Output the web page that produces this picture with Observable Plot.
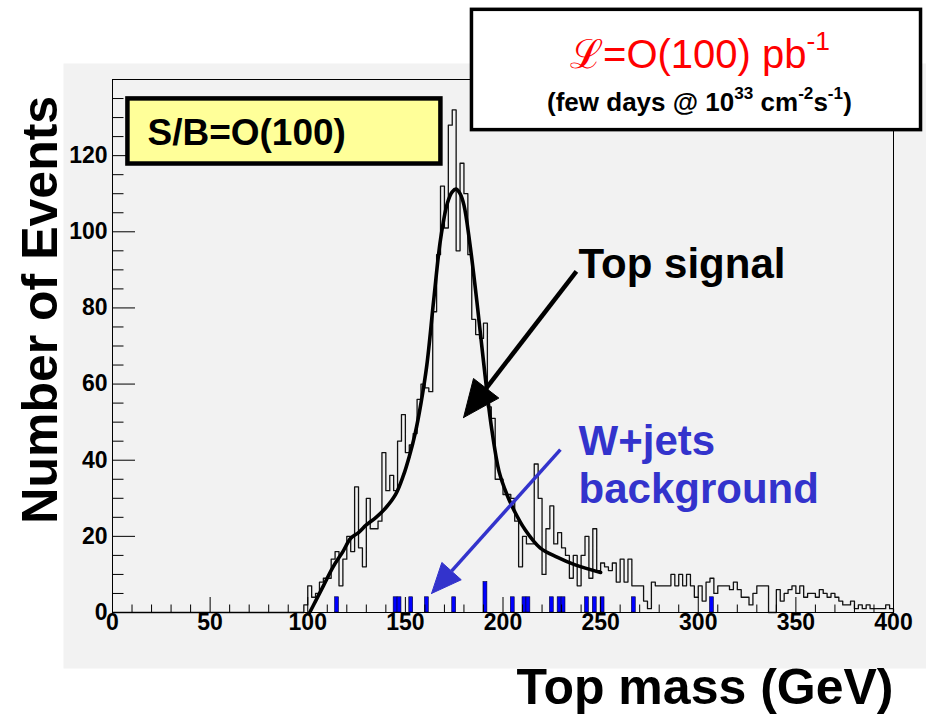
<!DOCTYPE html>
<html>
<head>
<meta charset="utf-8">
<script src="https://cdn.jsdelivr.net/npm/d3@7"></script>
<script src="https://cdn.jsdelivr.net/npm/@observablehq/plot@0.6"></script>
<style>
html, body { margin: 0; padding: 0; background: #ffffff; }
#chart { width: 926px; height: 717px; }
</style>
</head>
<body>
<div id="chart"></div>
<script>
// ---------------- DATA ----------------
// Top signal histogram: 2 GeV bins, first non-empty bin starts at 98 GeV
const binWidth = 2;
const sigFirstEdge = 98;
const sigCounts = [
  2, 7, 4, 5, 8, 9, 9, 14, 16, 7,
  14, 20, 16, 33, 17, 12, 30, 22, 22, 24,
  42, 32, 36, 32, 45, 52, 42, 44, 47, 56,
  60, 59, 58, 79, 94, 112, 101, 128, 132, 95,
  118, 110, 94, 77, 73, 72, 76, 54, 51, 35,
  35, 31, 31, 30, 24, 12, 20, 18, 18, 39,
  30, 10, 22, 28, 18, 21, 17, 15, 9, 15,
  7, 15, 20, 9, 22, 11, 13, 12, 11, 13,
  8, 14, 8, 14, 7, 7, 7, 3, 1, 8,
  7, 7, 7, 7, 10, 7, 10, 7, 10, 7,
  4, 7, 3, 8, 9, 5, 7, 7, 7, 6,
  8, 6, 4, 4, 2, 5, 7, 7, 7, 0,
  0, 6, 3, 5, 6, 7, 5, 7, 4, 5,
  5, 4, 6, 5, 4, 5, 4, 3, 2, 2,
  3, 1, 2, 1, 2, 1, 1, 1, 1, 2,
  1
];
// W+jets background histogram (bin low edges and contents)
const bkgLow   = [114, 144, 146, 152, 160, 174, 190, 204, 210, 212, 224, 228, 230, 242, 246, 250, 266, 306];
const bkgCount = [4,   4,   4,   4,   4,   4,   8,   4,   4,   4,   4,   4,   4,   4,   4,   4,   4,   4];
// fitted curve
const fitMass  = [101, 104, 108, 113, 118, 122, 126, 130, 135, 140, 145, 149, 152, 155, 158, 161, 164.5, 168, 171.5, 174, 176, 178, 180, 183, 187, 190, 194, 198, 202, 206, 211, 219, 228, 237, 250];
const fitCount = [0,   3,   7,   12,  16,  19.5, 21, 23, 25, 27.5, 31, 36, 41, 47, 55, 65, 82, 98, 107.5, 110.5, 111.2, 110, 107, 97, 80, 66, 49, 37, 31, 26.5, 22, 17, 14.5, 12.5, 10.5];
// axis ticks
const xMajorTicks = [0, 50, 100, 150, 200, 250, 300, 350, 400];
const xTickLabels = ["0", "50", "100", "150", "200", "250", "300", "350", "400"];
const yMajorTicks = [0, 20, 40, 60, 80, 100, 120];
const yTickLabels = ["0", "20", "40", "60", "80", "100", "120"];
const xMinorStep = 10, yMinorStep = 5;
// texts
const xTitle = "Top mass (GeV)";
const yTitle = "Number of Events";
const sbText = "S/B=O(100)";
const lumiText = "\u2112=O(100) pb^{-1}";
const lumiSub = "(few days @ 10^{33} cm^{-2}s^{-1})";
const sigLabel = "Top signal";
const bkgLabel = ["W+jets", "background"];

// ---------------- LAYOUT ----------------
const W = 926, H = 717;
const M = {left: 112, right: 33, top: 79, bottom: 105};
const xDomain = [0, 400], yDomain = [0, 140];
const kx = (W - M.left - M.right) / (xDomain[1] - xDomain[0]);
const ky = (H - M.top - M.bottom) / (yDomain[1] - yDomain[0]);
const toPx = (x, y) => [M.left + (x - xDomain[0]) * kx, H - M.bottom - (y - yDomain[0]) * ky];
const fromPx = (px, py) => [xDomain[0] + (px - M.left) / kx, yDomain[0] + (H - M.bottom - py) / ky];

const FONT = "'Liberation Sans', Arial, Helvetica, sans-serif";
const GRAY = "#f2f2f2";
const BLUE_TXT = "#3333cc";

// annotation placement in data units (GeV, events)
const place = {
  sbBox:   {x1: 7.9, x2: 168.2, y1: 117.8, y2: 134.9},
  sbText:  {x: 17.9, y: 125.8},
  lumiBox: {x1: 184.1, x2: 414.1, y1: 126.7, y2: 158.3},
  lumi1:   {x: 300.9, y: 146.3},
  lumi2:   {x: 300.6, y: 133.8},
  sig:     {x: 238.7, y: 91.5},
  bkg1:    {x: 238.7, y: 44.8},
  bkg2:    {x: 238.7, y: 32.2},
  yTitleEnd: 135.7
};
const arrows = [
  {x1: 237.6, y1: 89.6, x2: 179.8, y2: 51.2, head: 37, half: 16, width: 4.5, color: "#000000"},
  {x1: 229.4, y1: 42.8, x2: 163.4, y2: 5.0,  head: 30, half: 13, width: 3.5, color: BLUE_TXT}
];

// ---------------- DERIVED TABLES ----------------
const stepPts = [{x: xDomain[0], y: 0}];
sigCounts.forEach((n, i) => stepPts.push({x: sigFirstEdge + i * binWidth, y: n}));
stepPts.push({x: sigFirstEdge + sigCounts.length * binWidth, y: 0});
if (stepPts[stepPts.length - 1].x < xDomain[1]) stepPts.push({x: xDomain[1], y: 0});

const bkgBins = bkgLow.map((lo, i) => ({x1: lo, x2: lo + binWidth, y: bkgCount[i]}));
const fit = fitMass.map((m, i) => ({x: m, y: fitCount[i]}));

const xMinorTicks = d3.range(xDomain[0], xDomain[1] + 1, xMinorStep).filter(v => !xMajorTicks.includes(v));
const yMinorTicks = d3.range(yDomain[0], yDomain[1], yMinorStep).filter(v => !yMajorTicks.includes(v));

function arrowGeom(a) {
  const P = toPx(a.x2, a.y2), T = toPx(a.x1, a.y1);
  const dx = T[0] - P[0], dy = T[1] - P[1];
  const L = Math.hypot(dx, dy);
  const ux = dx / L, uy = dy / L;
  const B = [P[0] + ux * a.head, P[1] + uy * a.head];
  const nx = -uy, ny = ux;
  const tri = [P, [B[0] + nx * a.half, B[1] + ny * a.half], [B[0] - nx * a.half, B[1] - ny * a.half], P]
    .map(p => fromPx(p[0], p[1]));
  const Bd = fromPx(B[0], B[1]);
  return {shaft: {x1: a.x1, y1: a.y1, x2: Bd[0], y2: Bd[1]}, tri, a};
}
const arrowMarks = arrows.flatMap(a => {
  const g = arrowGeom(a);
  return [
    Plot.link([g.shaft], {x1: "x1", y1: "y1", x2: "x2", y2: "y2", stroke: a.color, strokeWidth: a.width}),
    Plot.line(g.tri, {x: d => d[0], y: d => d[1], fill: a.color, stroke: a.color, strokeWidth: 1, strokeLinejoin: "miter"})
  ];
});

const bold = {fontFamily: FONT, fontWeight: "bold"};

const chart = Plot.plot({
  width: W,
  height: H,
  marginLeft: M.left,
  marginRight: M.right,
  marginTop: M.top,
  marginBottom: M.bottom,
  x: {domain: xDomain, axis: null},
  y: {domain: yDomain, axis: null},
  style: {background: "#ffffff", fontFamily: FONT, overflow: "visible"},
  marks: [
    // pad background
    Plot.frame({fill: GRAY, stroke: "none", insetLeft: -49, insetTop: -16, insetRight: -33, insetBottom: -56}),
    // signal histogram outline
    Plot.line(stepPts, {x: "x", y: "y", curve: "step-after", stroke: "#111", strokeWidth: 1.3}),
    // background histogram
    Plot.rectY(bkgBins, {x1: "x1", x2: "x2", y: "y", fill: "#0000ff", stroke: "#000033", strokeWidth: 0.6}),
    // fit
    Plot.line(fit, {x: "x", y: "y", curve: "catmull-rom", stroke: "#000", strokeWidth: 3.6}),
    // frame
    Plot.frame({stroke: "#000", strokeWidth: 1}),
    // ticks (inward)
    Plot.ruleX(xMajorTicks, {x: d => d, y1: 0, y2: 15 / ky, stroke: "#000", strokeWidth: 1}),
    Plot.ruleX(xMinorTicks, {x: d => d, y1: 0, y2: 7.5 / ky, stroke: "#000", strokeWidth: 1}),
    Plot.ruleY(yMajorTicks, {y: d => d, x1: 0, x2: 23 / kx, stroke: "#000", strokeWidth: 1}),
    Plot.ruleY(yMinorTicks, {y: d => d, x1: 0, x2: 11.5 / kx, stroke: "#000", strokeWidth: 1}),
    // tick labels
    Plot.text(xMajorTicks, {x: d => d, frameAnchor: "bottom", dy: 17, text: (d, i) => xTickLabels[i], fontSize: 23, ...bold, fill: "#000"}),
    Plot.text(yMajorTicks, {y: d => d, frameAnchor: "left", dx: -5, textAnchor: "end", text: (d, i) => yTickLabels[i], fontSize: 23, ...bold, fill: "#000"}),
    // axis titles
    Plot.text([xTitle], {x: xDomain[1], frameAnchor: "bottom", dy: 91, textAnchor: "end", text: d => d, fontSize: 50, ...bold, fill: "#000"}),
    Plot.text([yTitle], {y: place.yTitleEnd, frameAnchor: "left", dx: -72, rotate: -90, textAnchor: "end", text: d => d, fontSize: 50, ...bold, fill: "#000"}),
    // S/B box
    Plot.rect([place.sbBox], {x1: "x1", x2: "x2", y1: "y1", y2: "y2", fill: "#ffff99", stroke: "#000", strokeWidth: 4.5}),
    Plot.text([sbText], {x: place.sbText.x, y: place.sbText.y, text: d => d, textAnchor: "start", fontSize: 37, ...bold, fill: "#000"}),
    // luminosity box
    Plot.rect([place.lumiBox], {x1: "x1", x2: "x2", y1: "y1", y2: "y2", fill: "#ffffff", stroke: "#000", strokeWidth: 3.5}),
    Plot.text([lumiText], {x: place.lumi1.x, y: place.lumi1.y, text: d => d, textAnchor: "middle", fontSize: 40, fontFamily: FONT, fill: "#ff0000"}),
    Plot.text([lumiSub], {x: place.lumi2.x, y: place.lumi2.y, text: d => d, textAnchor: "middle", fontSize: 26, ...bold, fill: "#000"}),
    // labels
    Plot.text([sigLabel], {x: place.sig.x, y: place.sig.y, text: d => d, textAnchor: "start", fontSize: 42, ...bold, fill: "#000"}),
    Plot.text([bkgLabel[0]], {x: place.bkg1.x, y: place.bkg1.y, text: d => d, textAnchor: "start", fontSize: 42, ...bold, fill: BLUE_TXT}),
    Plot.text([bkgLabel[1]], {x: place.bkg2.x, y: place.bkg2.y, text: d => d, textAnchor: "start", fontSize: 42, ...bold, fill: BLUE_TXT}),
    // arrows
    ...arrowMarks
  ]
});

// superscripts written as ^{...}
chart.querySelectorAll("text").forEach(t => {
  const s = t.textContent;
  if (!s.includes("^{")) return;
  const parts = s.split(/(\^\{[^}]*\})/).filter(p => p.length);
  while (t.firstChild) t.removeChild(t.firstChild);
  let prevSup = false;
  const NS = "http://www.w3.org/2000/svg";
  parts.forEach(p => {
    const ts = document.createElementNS(NS, "tspan");
    if (p.startsWith("^{")) {
      ts.textContent = p.slice(2, -1);
      ts.setAttribute("font-size", "66%");
      ts.setAttribute("dy", prevSup ? "0em" : "-0.7em");
      prevSup = true;
    } else {
      ts.textContent = p;
      if (prevSup) ts.setAttribute("dy", "0.462em");
      prevSup = false;
    }
    t.appendChild(ts);
  });
});

document.getElementById("chart").appendChild(chart);
</script>
</body>
</html>
